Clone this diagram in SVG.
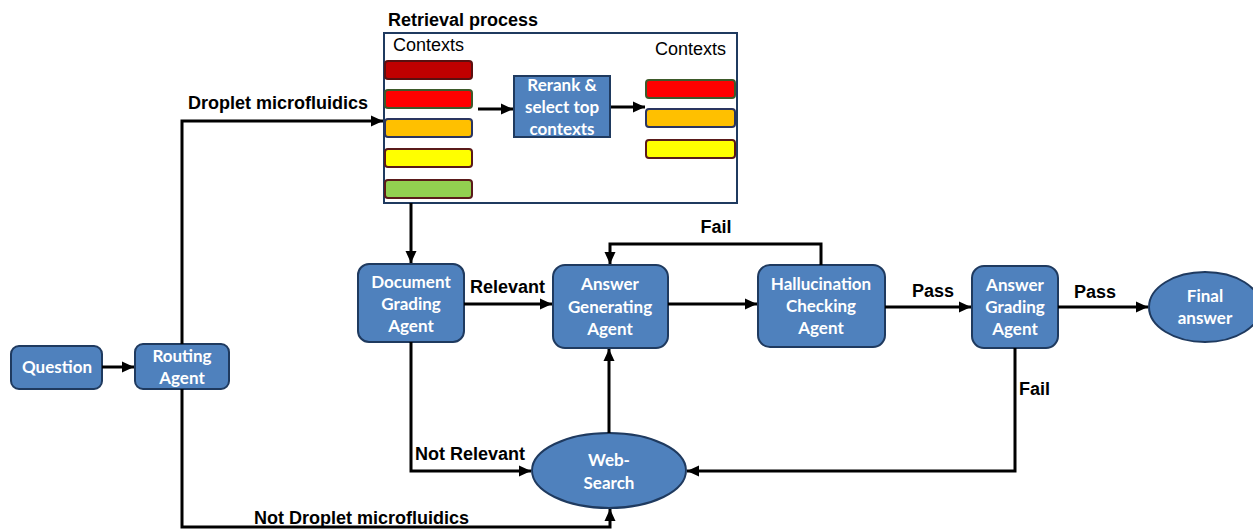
<svg xmlns="http://www.w3.org/2000/svg" width="1253" height="529" viewBox="0 0 1253 529">
<style>
.node{fill:#4F81BD;stroke:#1F3A5F;stroke-width:2}
.nt{font-family:Lato,"Open Sans",sans-serif;font-weight:bold;font-size:17px;fill:#fff;text-anchor:middle}
.lbl{font-family:"Liberation Sans",Arial,sans-serif;font-weight:bold;font-size:18px;fill:#000}
.ctx{font-family:"Liberation Sans",Arial,sans-serif;font-size:18px;fill:#000}
.conn{fill:none;stroke:#000;stroke-width:3}
.bar{stroke-width:2}
</style>
<defs>
<marker id="ah" markerUnits="userSpaceOnUse" markerWidth="14" markerHeight="14" viewBox="0 0 14 14" refX="12" refY="7" orient="auto">
<path d="M0,1.5 L12,7 L0,12.5 Z" fill="#000"/>
</marker>
</defs>
<rect width="1253" height="529" fill="#fff"/>

<g id="retrieval">
<text class="lbl" x="388" y="26">Retrieval process</text>
<rect x="384" y="33" width="353" height="170" fill="#fff" stroke="#1F3A5F" stroke-width="2"/>
<text class="ctx" x="393" y="51">Contexts</text>
<text class="ctx" x="655" y="55">Contexts</text>
<rect class="bar" x="385" y="61" width="87" height="18" rx="3" fill="#C00000" stroke="#5a1010"/>
<rect class="bar" x="385" y="90" width="87" height="18" rx="3" fill="#FF0000" stroke="#3d5a2a"/>
<rect class="bar" x="385" y="119" width="87" height="18" rx="3" fill="#FFC000" stroke="#2a3560"/>
<rect class="bar" x="385" y="149" width="87" height="18" rx="3" fill="#FFFF00" stroke="#5a1a1a"/>
<rect class="bar" x="385" y="180" width="87" height="18" rx="3" fill="#92D050" stroke="#5a1a1a"/>
<rect class="bar" x="646" y="80" width="89" height="18" rx="3" fill="#FF0000" stroke="#3d5a2a"/>
<rect class="bar" x="646" y="109" width="89" height="18" rx="3" fill="#FFC000" stroke="#2a3560"/>
<rect class="bar" x="646" y="140" width="89" height="18" rx="3" fill="#FFFF00" stroke="#5a1a1a"/>
</g>

<g id="rerank">
<rect x="514" y="76" width="96" height="61" fill="#4F81BD" stroke="#1F3A5F" stroke-width="2"/>
<text class="nt" x="562" y="91" font-size="15">Rerank &amp;</text>
<text class="nt" x="562" y="113" font-size="15">select top</text>
<text class="nt" x="562" y="135" font-size="15">contexts</text>
</g>

<g id="question">
<rect class="node" x="11" y="346" width="91" height="43" rx="8"/>
<text class="nt" x="57" y="373">Question</text>
</g>

<g id="routing">
<rect class="node" x="135" y="344" width="94" height="45" rx="8"/>
<text class="nt" x="182" y="362">Routing</text>
<text class="nt" x="182" y="384">Agent</text>
</g>

<g id="docgrading">
<rect class="node" x="358" y="264" width="106" height="78" rx="11"/>
<text class="nt" x="411" y="288">Document</text>
<text class="nt" x="411" y="310">Grading</text>
<text class="nt" x="411" y="332">Agent</text>
</g>

<g id="answergen">
<rect class="node" x="553" y="265" width="115" height="83" rx="12"/>
<text class="nt" x="610" y="290">Answer</text>
<text class="nt" x="610" y="313">Generating</text>
<text class="nt" x="610" y="335">Agent</text>
</g>

<g id="hallucination">
<rect class="node" x="758" y="265" width="127" height="82" rx="12"/>
<text class="nt" x="821" y="290">Hallucination</text>
<text class="nt" x="821" y="312">Checking</text>
<text class="nt" x="821" y="334">Agent</text>
</g>

<g id="answergrading">
<rect class="node" x="972" y="266" width="86" height="82" rx="12"/>
<text class="nt" x="1015" y="291">Answer</text>
<text class="nt" x="1015" y="313">Grading</text>
<text class="nt" x="1015" y="335">Agent</text>
</g>

<g id="finalanswer">
<ellipse class="node" cx="1205" cy="307" rx="56" ry="35"/>
<text class="nt" x="1205" y="302">Final</text>
<text class="nt" x="1205" y="324">answer</text>
</g>

<g id="websearch">
<ellipse class="node" cx="609" cy="470.5" rx="77" ry="37.5"/>
<text class="nt" x="609" y="466">Web-</text>
<text class="nt" x="609" y="489">Search</text>
</g>

<g id="connectors">
<path class="conn" d="M102,367 H134" marker-end="url(#ah)"/>
<path class="conn" d="M182,344 V121 H383" marker-end="url(#ah)"/>
<path class="conn" d="M182,389 V527 H610 V509" marker-end="url(#ah)"/>
<path class="conn" d="M411,203 V263" marker-end="url(#ah)"/>
<path class="conn" d="M478,109 H513" marker-end="url(#ah)"/>
<path class="conn" d="M611,107 H645" marker-end="url(#ah)"/>
<path class="conn" d="M464,304 H552" marker-end="url(#ah)"/>
<path class="conn" d="M668,304 H757" marker-end="url(#ah)"/>
<path class="conn" d="M821,265 V244 H610 V264" marker-end="url(#ah)"/>
<path class="conn" d="M885,307 H971" marker-end="url(#ah)"/>
<path class="conn" d="M1058,307 H1148" marker-end="url(#ah)"/>
<path class="conn" d="M1015,348 V471 H687" marker-end="url(#ah)"/>
<path class="conn" d="M411,342 V471 H531" marker-end="url(#ah)"/>
<path class="conn" d="M609,433 V349" marker-end="url(#ah)"/>
<text class="lbl" x="188" y="109">Droplet microfluidics</text>
<text class="lbl" x="470" y="293">Relevant</text>
<text class="lbl" x="716" y="233" text-anchor="middle">Fail</text>
<text class="lbl" x="912" y="297">Pass</text>
<text class="lbl" x="1074" y="298">Pass</text>
<text class="lbl" x="1019" y="395">Fail</text>
<text class="lbl" x="415" y="460">Not Relevant</text>
<text class="lbl" x="254" y="524">Not Droplet microfluidics</text>
</g>
</svg>
